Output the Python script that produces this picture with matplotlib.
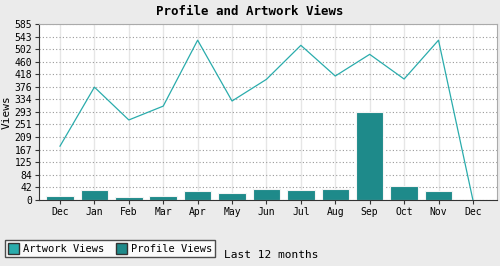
import numpy as np
import matplotlib
matplotlib.use("Agg")
from matplotlib import pyplot as plt
from matplotlib.patches import Patch

months = ["Dec", "Jan", "Feb", "Mar", "Apr", "May", "Jun", "Jul", "Aug", "Sep", "Oct", "Nov", "Dec"]
artwork_views = [179, 375, 266, 312, 531, 329, 401, 514, 412, 484, 402, 531, 0]
profile_views = [15, 32, 9, 15, 29, 25, 38, 32, 38, 291, 45, 29, 0]
y_ticks = [0, 42, 84, 125, 167, 209, 251, 293, 334, 376, 418, 460, 502, 543, 585]

line_col = "#2aacac"
bar_col = "#1e8a8a"

plt.rcParams["font.family"] = ["DejaVu Sans Mono"]

fig = plt.figure(figsize=(5, 2.66), dpi=100, facecolor="#ebebeb")
ax = fig.add_axes([0.078, 0.248, 0.916, 0.662])
ax.set_facecolor("white")

x = np.arange(len(months))
ax.bar(x, profile_views, width=0.8, color=bar_col, edgecolor="#f4f4f4", linewidth=0.8, zorder=2)
ax.plot(x, artwork_views, color=line_col, linewidth=0.9, zorder=3)

ax.set_xlim(-0.61, 12.7)
ax.set_ylim(0, 585)
ax.set_xticks(x)
ax.set_xticklabels(months, fontsize=7)
ax.set_yticks(y_ticks)
ax.set_yticklabels([str(v) for v in y_ticks], fontsize=7)
ax.tick_params(length=3, width=0.8, pad=2, color="#333333")

ax.grid(axis="x", color="#e6e6e6", linewidth=1, linestyle="-", zorder=0)
ax.grid(axis="y", color="#999999", linewidth=0.8, linestyle=(0, (1, 2)), zorder=1)
ax.set_axisbelow(True)

for s in ["top", "right"]:
    ax.spines[s].set_color("#aaaaaa")
for s in ["left", "bottom"]:
    ax.spines[s].set_color("#333333")

ax.set_ylabel("Views", fontsize=8, labelpad=2)
fig.text(0.5, 0.955, "Profile and Artwork Views", ha="center", va="center",
         fontsize=9, fontweight="bold")
fig.text(0.448, 0.043, "Last 12 months", ha="left", va="center", fontsize=8)

handles = [Patch(facecolor=line_col, edgecolor="#333333", label="Artwork Views"),
           Patch(facecolor=bar_col, edgecolor="#333333", label="Profile Views")]
leg = fig.legend(handles=handles, loc="lower left", bbox_to_anchor=(0.01, 0.034),
                 ncol=2, fontsize=7.5, frameon=True, fancybox=False,
                 handlelength=1.0, handleheight=1.2, handletextpad=0.4,
                 columnspacing=1.2, borderpad=0.3, borderaxespad=0)
leg.get_frame().set_edgecolor("#222222")
leg.get_frame().set_linewidth(1)

fig.savefig("out.png", dpi=100, facecolor=fig.get_facecolor())
